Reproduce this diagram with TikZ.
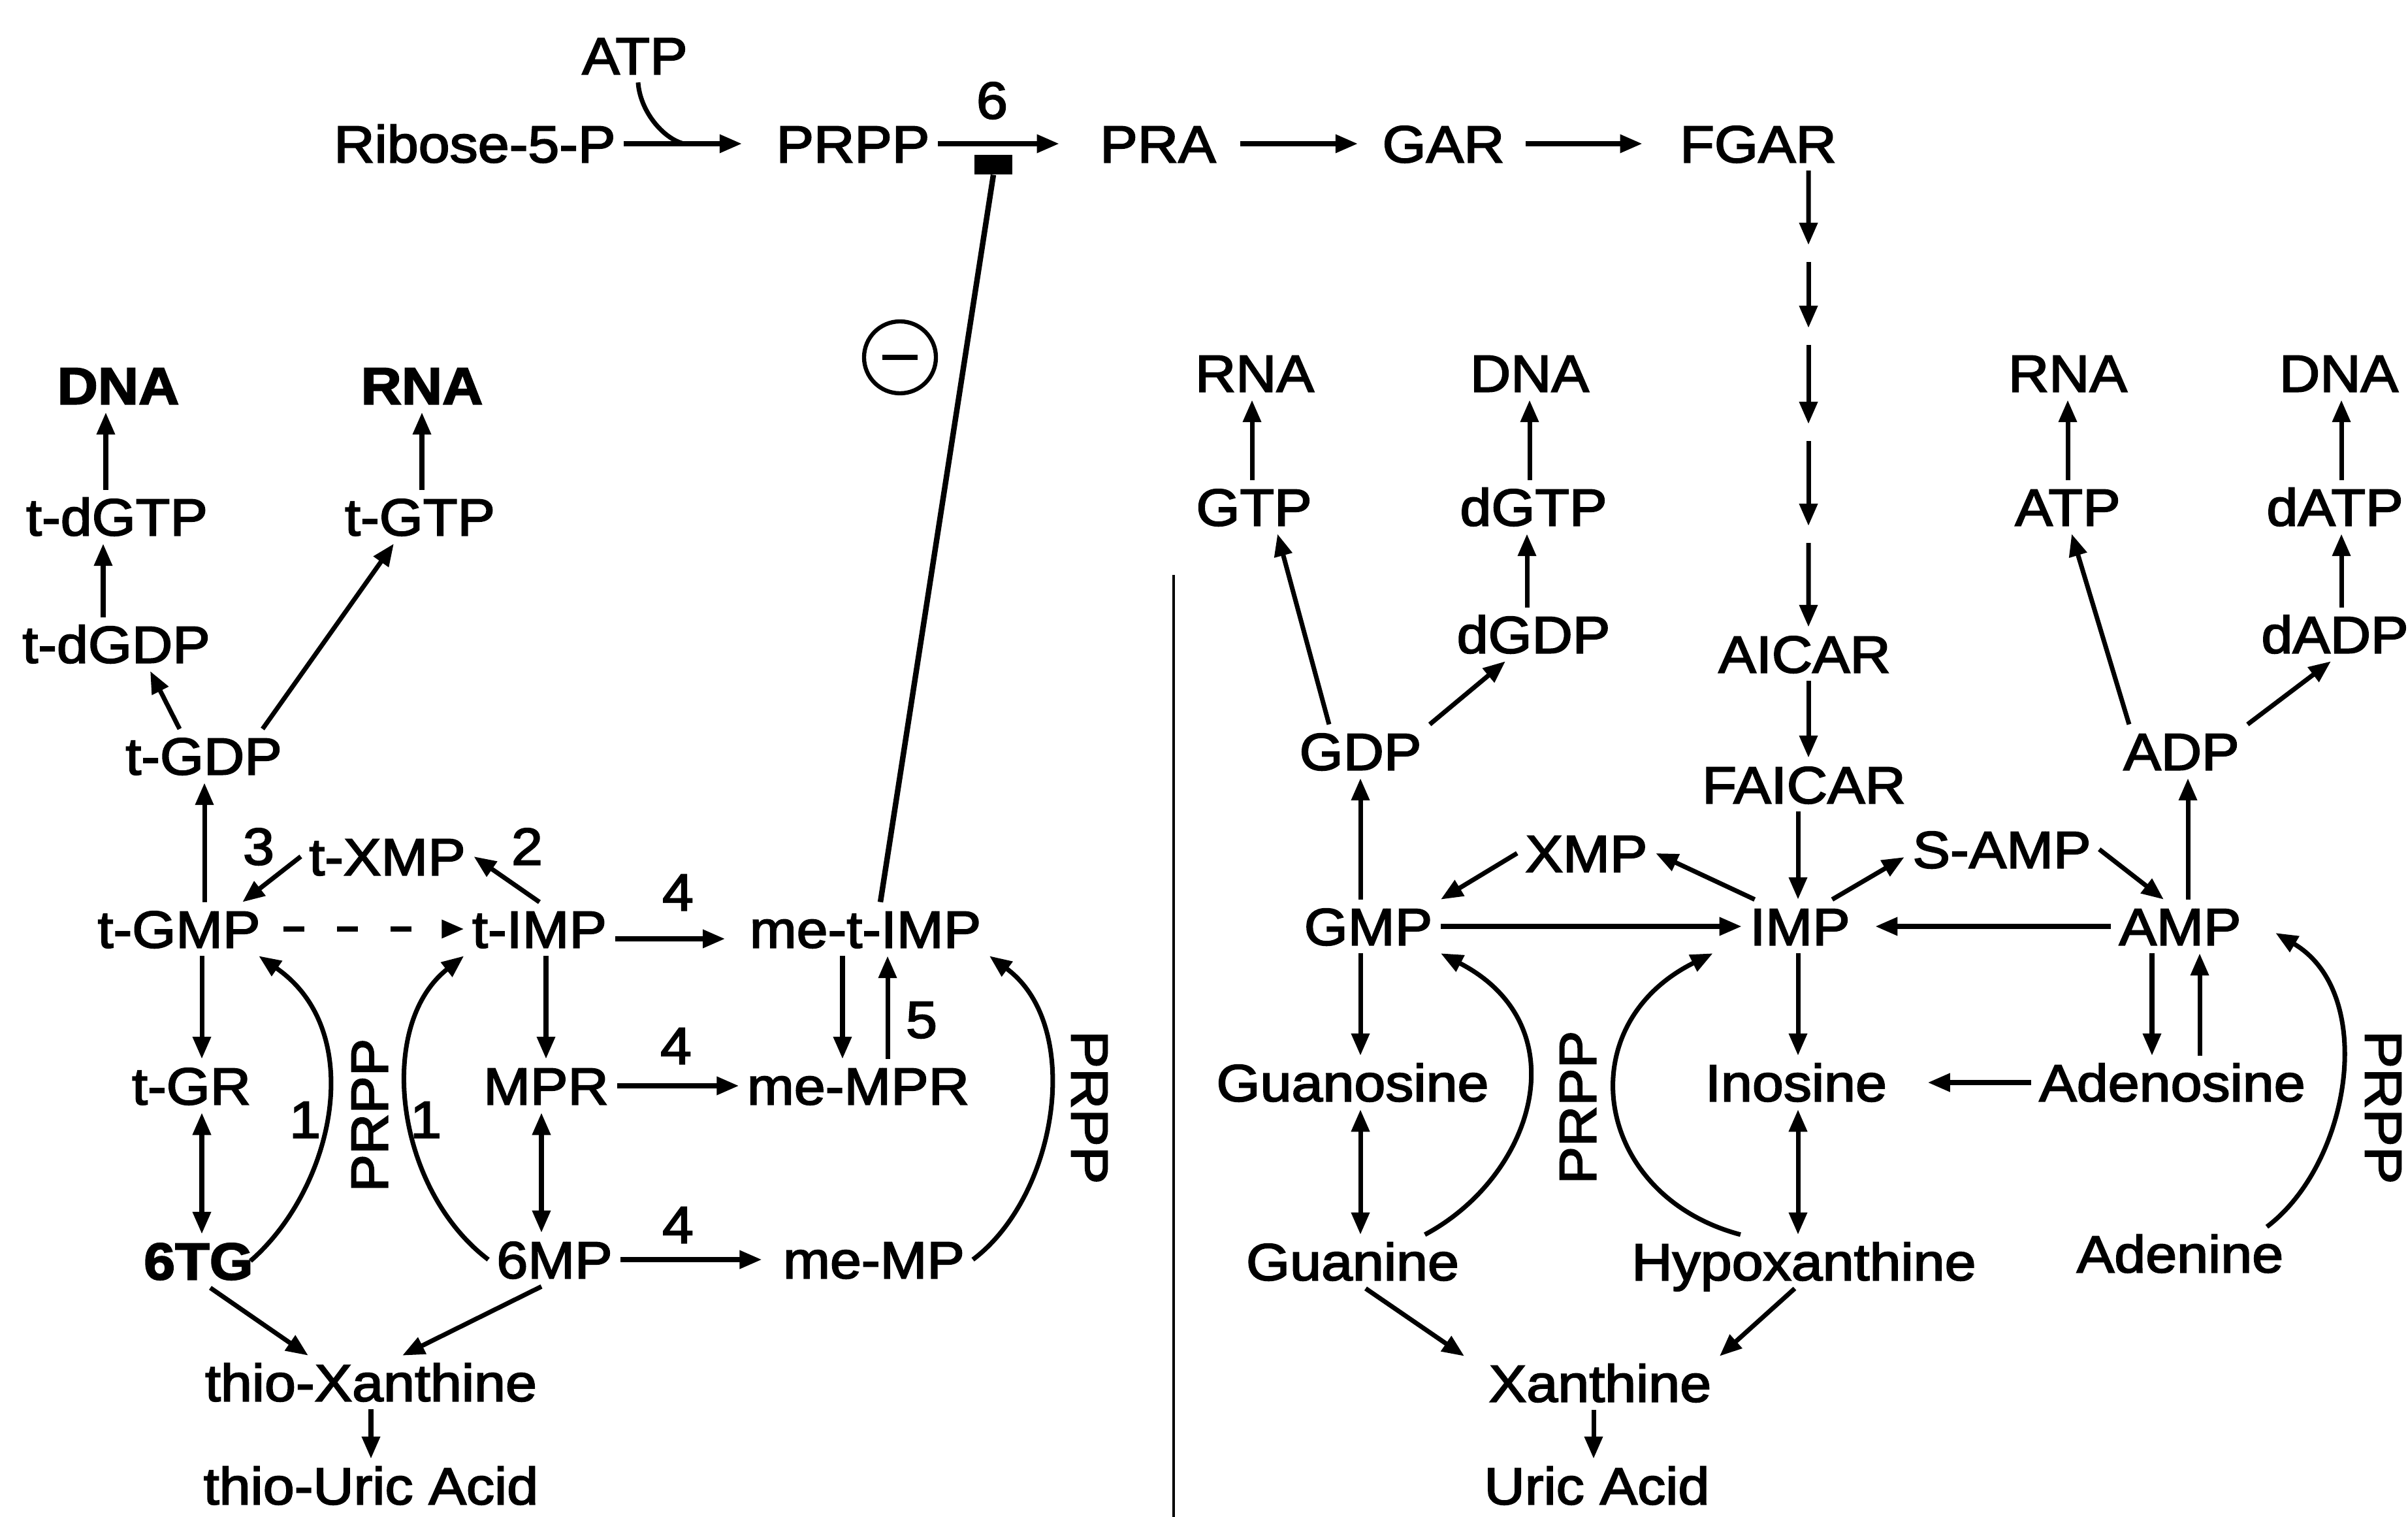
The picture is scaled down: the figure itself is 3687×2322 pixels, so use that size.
\documentclass[tikz,border=0pt]{standalone}
\usepackage{fontspec}
\setmainfont{Liberation Sans}[FakeStretch=1.08, FakeBold=2.5]
\usetikzlibrary{arrows.meta,calc}
\begin{document}
\begin{tikzpicture}[x=0.01cm, y=-0.01cm,
    mol/.style={inner sep=0.12cm, text height=0.57cm, text depth=0cm, font=\fontsize{22.7pt}{27pt}\selectfont},
    bmol/.style={mol, font=\fontsize{22.7pt}{27pt}\selectfont\bfseries},
    arr/.style={line width=2pt, -{Triangle[length=0.34cm,width=0.27cm]}},
    dbl/.style={line width=2pt, {Triangle[length=0.34cm,width=0.27cm]}-{Triangle[length=0.34cm,width=0.27cm]}},
    link/.style={line width=2pt}]
    \useasboundingbox (0,0) rectangle (3687,2322);

    % top row
    \node[mol] (atp) at (972,85) {ATP};
    \node[mol] (ribose) at (727,220) {Ribose-5-P};
    \node[mol] (prpp) at (1306,220) {PRPP};
    \node[mol] (six) at (1519,153) {6};
    \node[mol] (pra) at (1773,220) {PRA};
    \node[mol] (gar) at (2210,220) {GAR};
    \node[mol] (fgar) at (2692,220) {FGAR};
    \node[fill=black, minimum width=0.58cm, minimum height=0.3cm, inner sep=0] (inh) at (1521,252) {};
    \node[draw, circle, line width=1.8pt, minimum size=1.1cm, inner sep=0] (minus) at (1378,547) {};

    % left side
    \node[bmol] (dnal) at (181,590) {DNA};
    \node[bmol] (rnal) at (646,590) {RNA};
    \node[mol] (tdgtp) at (179,791) {t-dGTP};
    \node[mol] (tgtp) at (643,791) {t-GTP};
    \node[mol] (tdgdp) at (178,986) {t-dGDP};
    \node[mol] (tgdp) at (312,1157) {t-GDP};
    \node[mol] (three) at (396,1295) {3};
    \node[mol] (txmp) at (593,1311) {t-XMP};
    \node[mol] (two) at (807,1295) {2};
    \node[mol] (tgmp) at (274,1422) {t-GMP};
    \node[mol] (timp) at (826,1422) {t-IMP};
    \node[mol] (foura) at (1038,1365) {4};
    \node[mol] (mtimp) at (1325,1422) {me-t-IMP};
    \node[mol] (tgr) at (293,1662) {t-GR};
    \node[mol] (mpr) at (836,1662) {MPR};
    \node[mol] (fourb) at (1035,1600) {4};
    \node[mol] (mmpr) at (1314,1662) {me-MPR};
    \node[mol] (five) at (1411,1560) {5};
    \node[mol] (onea) at (467,1713) {1};
    \node[mol] (oneb) at (652,1713) {1};
    \node[mol, rotate=90] (prppl) at (565,1707) {PRPP};
    \node[mol, rotate=-90] (prppm) at (1669,1695) {PRPP};
    \node[bmol] (stg) at (304,1930) {6TG};
    \node[mol] (smp) at (849,1928) {6MP};
    \node[mol] (fourc) at (1038,1874) {4};
    \node[mol] (mmp) at (1338,1928) {me-MP};
    \node[mol] (thx) at (568,2116) {thio-Xanthine};
    \node[mol] (thua) at (568,2274) {thio-Uric Acid};

    % right side
    \node[mol] (rnaa) at (1921,571) {RNA};
    \node[mol] (dnaa) at (2342,571) {DNA};
    \node[mol] (gtp) at (1920,776) {GTP};
    \node[mol] (dgtp) at (2348,776) {dGTP};
    \node[mol] (dgdp) at (2348,971) {dGDP};
    \node[mol] (aicar) at (2763,1001) {AICAR};
    \node[mol] (gdp) at (2083,1150) {GDP};
    \node[mol] (faicar) at (2762,1201) {FAICAR};
    \node[mol] (xmp) at (2429,1306) {XMP};
    \node[mol] (samp) at (3065,1300) {S-AMP};
    \node[mol] (gmp) at (2095,1418) {GMP};
    \node[mol] (imp) at (2756,1418) {IMP};
    \node[mol] (amp) at (3338,1418) {AMP};
    \node[mol] (adp) at (3340,1150) {ADP};
    \node[mol] (rnab) at (3166,571) {RNA};
    \node[mol] (dnab) at (3581,571) {DNA};
    \node[mol] (atpr) at (3166,776) {ATP};
    \node[mol] (datp) at (3575,776) {dATP};
    \node[mol] (dadp) at (3575,971) {dADP};
    \node[mol] (guanosine) at (2071,1657) {Guanosine};
    \node[mol] (inosine) at (2750,1657) {Inosine};
    \node[mol] (adenosine) at (3326,1657) {Adenosine};
    \node[mol] (guanine) at (2071,1931) {Guanine};
    \node[mol] (hypox) at (2762,1931) {Hypoxanthine};
    \node[mol] (adenine) at (3338,1919) {Adenine};
    \node[mol] (xanthine) at (2450,2117) {Xanthine};
    \node[mol] (uric) at (2445,2274) {Uric Acid};
    \node[mol, rotate=90] (prppr) at (2415,1695) {PRPP};
    \node[mol, rotate=-90] (prppf) at (3650,1695) {PRPP};

    \coordinate (atpjoin) at (1047,220);
    \coordinate (k1) at (2769,388);
    \coordinate (k2) at (2769,515);
    \coordinate (k3) at (2769,662);
    \coordinate (k4) at (2769,818);

    % top arrows
    \draw[arr, shorten >=0.4cm] (ribose.east) -- (prpp.west);
    \draw[link] ([xshift=0.05cm]atp.south) .. controls (980,170) and (1015,212) .. (atpjoin);
    \draw[arr, shorten >=0.5cm] (prpp.east) -- (pra.west);
    \draw[arr, shorten <=0.25cm, shorten >=0.25cm] (pra.east) -- (gar.west);
    \draw[arr, shorten <=0.2cm, shorten >=0.45cm] (gar.east) -- (fgar.west);
    \draw[arr, shorten >=0.13cm] ([xshift=0.77cm]fgar.south) -- (k1);
    \foreach \p/\q in {k1/k2,k2/k3,k3/k4}
        \draw[arr, shorten <=0.13cm, shorten >=0.13cm] (\p) -- (\q);
    \draw[arr, shorten <=0.13cm] (k4) -- ([xshift=0.06cm]aicar.north);
    \draw[line width=2.4pt] ([xshift=0.23cm]mtimp.north) -- (inh.south);
    \draw[line width=2.2pt] ([xshift=-0.27cm]minus.center) -- ([xshift=0.27cm]minus.center);

    % left arrows
    \draw[arr] ([xshift=-0.17cm]tdgtp.north) -- ([xshift=-0.17cm]tdgtp.north |- dnal.south);
    \draw[arr] ([xshift=0.03cm]tgtp.north) -- ([xshift=0.03cm]tgtp.north |- rnal.south);
    \draw[arr] ([xshift=-0.2cm]tdgdp.north) -- ([xshift=-0.2cm]tdgdp.north |- tdgtp.south);
    \draw[arr] ([xshift=-0.37cm]tgdp.north) -- ([xshift=0.52cm]tdgdp.south);
    \draw[arr] ([xshift=0.9cm]tgdp.north) -- ([xshift=-0.4cm]tgtp.south);
    \draw[arr] ([xshift=0.39cm]tgmp.north) -- ([xshift=0.39cm]tgmp.north |- tgdp.south);
    \draw[arr] (txmp.west) -- ([xshift=-0.4cm]tgmp.north east);
    \draw[arr] (timp.north) -- (txmp.east);
    \draw[arr, dash pattern=on 0.32cm off 0.5cm, shorten <=0.23cm] (tgmp.east) -- (timp.west);
    \draw[arr, shorten >=0.25cm] ([yshift=-0.15cm]timp.east) -- ([yshift=-0.15cm]mtimp.west);
    \draw[arr] ([xshift=0.1cm]timp.south) -- ([xshift=0.1cm]timp.south |- mpr.north);
    \draw[arr] ([xshift=0.35cm]tgmp.south) -- ([xshift=0.35cm]tgmp.south |- tgr.north);
    \draw[dbl] ([xshift=0.16cm]tgr.south) -- ([xshift=0.16cm]tgr.south |- stg.north);
    \draw[dbl] ([xshift=-0.07cm]mpr.south) -- ([xshift=-0.07cm]mpr.south |- smp.north);
    \draw[arr] (mpr.east) -- (mmpr.west);
    \draw[arr, shorten >=0.2cm] (smp.east) -- (mmp.west);
    \draw[arr] ([xshift=-0.35cm]mtimp.south) -- ([xshift=-0.35cm]mtimp.south |- mmpr.north);
    \draw[arr] ([xshift=0.45cm]mmpr.north) -- ([xshift=0.45cm]mmpr.north |- mtimp.south);
    \draw[arr] ([xshift=-0.17cm]stg.east) .. controls (510,1820) and (565,1580) .. ([xshift=-0.15cm]tgmp.south east);
    \draw[arr] (smp.west) .. controls (605,1820) and (575,1570) .. (timp.south west);
    \draw[arr] (mmp.east) .. controls (1620,1830) and (1660,1570) .. (mtimp.south east);
    \draw[arr] ([xshift=0.18cm]stg.south) -- ([xshift=-0.96cm]thx.north);
    \draw[arr] ([xshift=-0.2cm]smp.south) -- ([xshift=0.48cm]thx.north);
    \draw[arr] (thx.south) -- (thx.south |- thua.north);

    % separator
    \draw[line width=1.2pt] (1797,880) -- (1797,2322);

    % right arrows
    \draw[arr] ([xshift=-0.03cm]gtp.north) -- ([xshift=-0.03cm]gtp.north |- rnaa.south);
    \draw[arr] ([xshift=-0.06cm]dgtp.north) -- ([xshift=-0.06cm]dgtp.north |- dnaa.south);
    \draw[arr] ([xshift=-0.1cm]dgdp.north) -- ([xshift=-0.1cm]dgdp.north |- dgtp.south);
    \draw[arr] ([xshift=-0.48cm]gdp.north) -- ([xshift=0.36cm]gtp.south);
    \draw[arr] (gdp.north east) -- ([xshift=-0.43cm]dgdp.south);
    \draw[arr] (atpr.north) -- (atpr.north |- rnab.south);
    \draw[arr] ([xshift=0.1cm]datp.north) -- ([xshift=0.1cm]datp.north |- dnab.south);
    \draw[arr] ([xshift=0.1cm]dadp.north) -- ([xshift=0.1cm]dadp.north |- datp.south);
    \draw[arr] ([xshift=-0.8cm]adp.north) -- ([xshift=0.06cm]atpr.south);
    \draw[arr] (adp.north east) -- ([xshift=-0.06cm]dadp.south);
    \draw[arr] ([xshift=0.06cm]aicar.south) -- ([xshift=0.06cm]aicar.south |- faicar.north);
    \draw[arr] ([xshift=-0.09cm]faicar.south) -- ([xshift=-0.09cm]faicar.south |- imp.north);
    \draw[arr] ([xshift=-0.12cm]gmp.north) -- ([xshift=-0.12cm]gmp.north |- gdp.south);
    \draw[arr] ([xshift=0.12cm]amp.north) -- ([xshift=0.12cm]amp.north |- adp.south);
    \draw[arr] ([xshift=0.2cm]imp.north west) -- (xmp.east);
    \draw[arr] (xmp.west) -- (gmp.north east);
    \draw[arr] ([xshift=-0.4cm]imp.north east) -- ([yshift=-0.12cm]samp.west);
    \draw[arr] (samp.east) -- ([xshift=-0.25cm]amp.north);
    \draw[arr] (gmp.east) -- (imp.west);
    \draw[arr, shorten >=0.26cm] (amp.west) -- (imp.east);
    \draw[arr] ([xshift=-0.12cm]gmp.south) -- ([xshift=-0.12cm]gmp.south |- guanosine.north);
    \draw[dbl] ([xshift=0.12cm]guanosine.south) -- ([xshift=0.12cm]guanosine.south |- guanine.north);
    \draw[arr] ([xshift=-0.03cm]imp.south) -- ([xshift=-0.03cm]imp.south |- inosine.north);
    \draw[dbl] ([xshift=0.03cm]inosine.south) -- ([xshift=0.03cm]inosine.south |- hypox.north);
    \draw[arr, shorten >=0.5cm] (adenosine.west) -- (inosine.east);
    \draw[arr] ([xshift=-0.43cm]amp.south) -- ([xshift=-0.43cm]amp.south |- adenosine.north);
    \draw[arr] ([xshift=0.42cm]adenosine.north) -- ([xshift=0.42cm]adenosine.north |- amp.south);
    \draw[arr] ([xshift=-0.65cm]guanine.north east) .. controls (2350,1800) and (2420,1570) .. (gmp.south east);
    \draw[arr] ([xshift=-0.97cm]hypox.north) .. controls (2440,1830) and (2400,1570) .. ([xshift=-0.44cm]imp.south west);
    \draw[arr] ([xshift=-0.38cm]adenine.north east) .. controls (3600,1780) and (3640,1520) .. ([xshift=0.4cm, yshift=-0.1cm]amp.east);
    \draw[arr] ([xshift=0.2cm]guanine.south) -- ([xshift=-0.25cm]xanthine.north west);
    \draw[arr] ([xshift=-0.14cm]hypox.south) -- (xanthine.north east);
    \draw[arr] ([xshift=-0.1cm]xanthine.south) -- ([xshift=-0.1cm]xanthine.south |- uric.north);
\end{tikzpicture}
\end{document}
